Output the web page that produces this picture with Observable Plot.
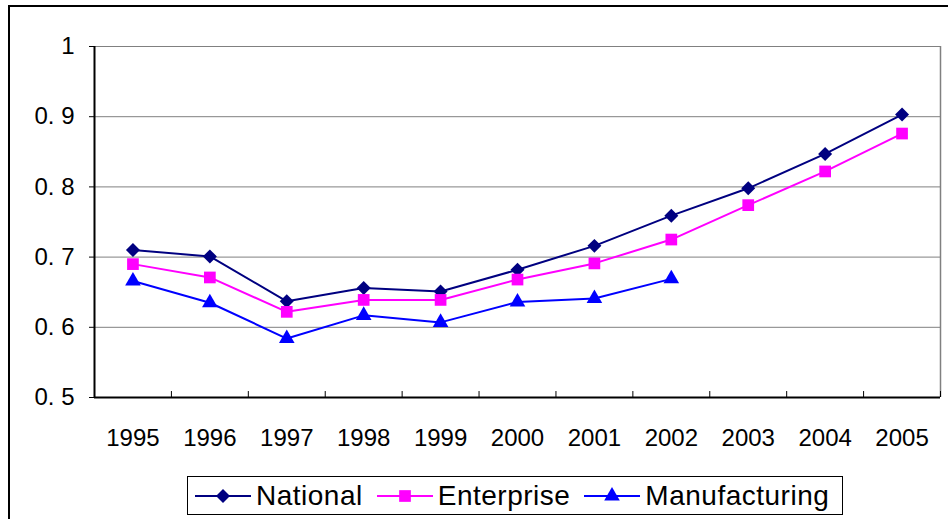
<!DOCTYPE html>
<html><head><meta charset="utf-8">
<script src="https://cdn.jsdelivr.net/npm/d3@7"></script>
<script src="https://cdn.jsdelivr.net/npm/@observablehq/plot@0.6"></script>
<style>
body{margin:0;background:#fff;width:948px;height:519px;overflow:hidden;position:relative;font-family:"Liberation Sans",Arial,sans-serif}
#frame{position:absolute;left:8px;top:5px;width:980px;height:560px;border-left:2px solid #000;border-top:2px solid #000}
#chart{position:absolute;left:0;top:0}
#legend{position:absolute;left:187px;top:476px;width:656px;height:39px;border:1px solid #000;box-sizing:border-box;display:flex;align-items:center;padding-left:7px;background:#fff}
.item{display:flex;align-items:center;margin-right:14px}
.item span{font-family:"Liberation Sans",Arial,sans-serif;font-size:28px;line-height:32px;letter-spacing:0.5px;margin-left:5px;color:#000}
</style></head>
<body>
<div id="frame"></div>
<div id="chart"></div>
<div id="legend"></div>
<script>
const years = [1995,1996,1997,1998,1999,2000,2001,2002,2003,2004,2005];
const national = [0.710,0.701,0.637,0.656,0.651,0.682,0.716,0.759,0.798,0.847,0.903];
const enterprise = [0.690,0.671,0.622,0.639,0.639,0.668,0.691,0.725,0.774,0.822,0.876];
const manufacturing = [0.666,0.635,0.584,0.617,0.607,0.636,0.641,0.669];
const seriesNames = ["National","Enterprise","Manufacturing"];
const seriesColors = ["#000080","#FF00FF","#0000FF"];
const seriesSymbols = ["diamond2","square","triangle"];
const seriesR = [6.3,6.6,5.8];
const yTicks = [0.5,0.6,0.7,0.8,0.9,1.0];

const seriesValues = [national, enterprise, manufacturing];
const rows = seriesNames.map((name, k) => seriesValues[k].map((v, i) => ({year: years[i], value: v, series: name})));
const xmin = years[0] - 0.5, xmax = years[years.length-1] + 0.5;
const boundaries = years.slice(0, -1).map(y => y + 0.5).concat([xmax]);

const fontFam = '"Liberation Sans", Arial, sans-serif';
const plot = Plot.plot({
  width: 948, height: 460,
  marginLeft: 94, marginRight: 8, marginTop: 46, marginBottom: 63,
  x: {type: "linear", domain: [xmin, xmax], label: null},
  y: {domain: [0.5, 1.0], label: null},
  style: {fontFamily: fontFam, fontSize: "24px", color: "#000", background: "transparent", overflow: "visible"},
  marks: [
    Plot.ruleY(yTicks.slice(1), {stroke: "#808080", strokeWidth: 1}),
    Plot.ruleX([xmax], {stroke: "#808080", strokeWidth: 1.5}),
    Plot.ruleX(boundaries, {y1: 0.5, y2: 0.5085, stroke: "#000", strokeWidth: 1}),
    Plot.ruleX([xmin], {stroke: "#000", strokeWidth: 2}),
    Plot.ruleY([0.5], {stroke: "#000", strokeWidth: 2}),
    Plot.axisY({ticks: yTicks, tickSize: 5, tickPadding: 15, fontSize: 24, label: null,
      tickFormat: d => d === 1 ? "1" : d.toFixed(1).replace(".", ". ")}),
    Plot.axisX({ticks: years, tickSize: 0, tickPadding: 31, fontSize: 24, label: null, tickFormat: d => String(d)}),
    ...rows.map((r, k) => Plot.line(r, {x: "year", y: "value", stroke: seriesColors[k], strokeWidth: 2})),
    ...rows.map((r, k) => Plot.dot(r, {x: "year", y: "value", fill: seriesColors[k], stroke: "none", symbol: seriesSymbols[k], r: seriesR[k]}))
  ]
});
document.getElementById("chart").appendChild(plot);

// legend
const d3sym = {diamond2: d3.symbolDiamond2, square: d3.symbolSquare, triangle: d3.symbolTriangle};
const legend = document.getElementById("legend");
seriesNames.forEach((name, k) => {
  const item = document.createElement("div");
  item.className = "item";
  const size = Math.PI * seriesR[k] * seriesR[k];
  const path = d3.symbol(d3sym[seriesSymbols[k]], size)();
  item.innerHTML = `<svg width="56" height="20" viewBox="0 0 56 20"><line x1="0" x2="56" y1="10" y2="10" stroke="${seriesColors[k]}" stroke-width="2"/><path d="${path}" transform="translate(28,10)" fill="${seriesColors[k]}"/></svg><span>${name}</span>`;
  legend.appendChild(item);
});
</script>
</body></html>
